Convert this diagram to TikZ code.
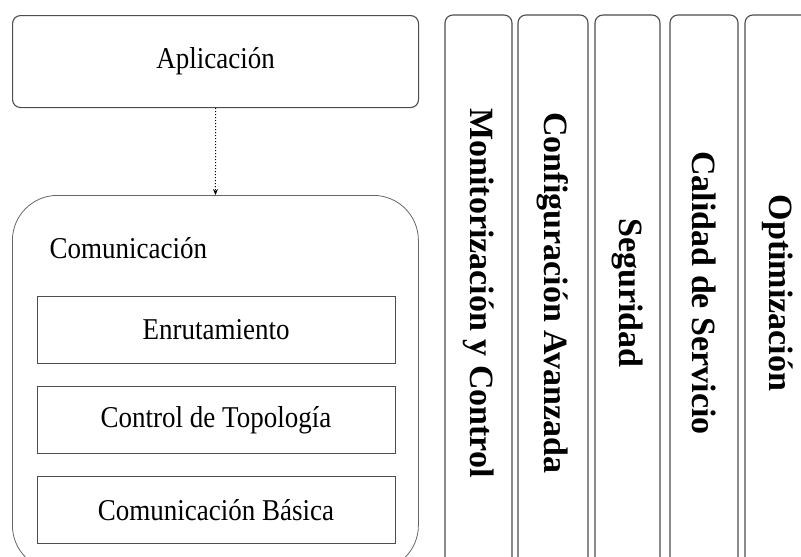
\documentclass[tikz,border=0pt]{standalone}
\usepackage{fontspec}
\usepackage{graphicx}
\setmainfont{Liberation Serif}
\usetikzlibrary{arrows.meta,positioning}
\newcommand{\stretchtxt}[1]{\scalebox{1}[1.12]{#1}}

\begin{document}
\begin{tikzpicture}[x=1pt,y=-1pt,>={Stealth[length=6pt,width=5pt]},
  font=\fontsize{27}{32}\selectfont,
  box/.style={draw=black!70,line width=1.1pt,rounded corners=8pt,
    minimum width=406pt,minimum height=92pt,anchor=north west},
  cont/.style={draw=black!60,line width=0.8pt,rounded corners=45pt,
    minimum width=406pt,minimum height=375pt,anchor=north west},
  layer/.style={draw=black!70,line width=0.9pt,minimum width=358pt,
    minimum height=67pt,inner sep=0pt},
  col/.style={draw=black!70,line width=1.1pt,rounded corners=8pt,rotate=-90,
    minimum width=556pt,inner sep=0pt,
    font=\fontsize{34}{40}\selectfont\bfseries}]
\clip (0,0) rectangle (801,557);
\node[box] (app) at (12,15) {\stretchtxt{Aplicación}};
\node[cont] (com) at (12,195) {};
\node[anchor=west] (comlbl) at (46,248) {\stretchtxt{Comunicación}};
\node[layer] (enr) at (216,330) {\stretchtxt{Enrutamiento}};
\node[layer,below=22pt of enr] (topo) {\stretchtxt{Control de Topología}};
\node[layer,below=22pt of topo] (basica) {\stretchtxt{Comunicación Básica}};
\draw[->,dotted,line width=1pt] (app) -- (com);
\node[col,minimum height=67pt] (mon) at (478.5,293) {Monitorización y Control};
\node[col,minimum height=70pt] (conf) at (553,293) {Configuración Avanzada};
\node[col,minimum height=65pt] (seg) at (627.5,293) {Seguridad};
\node[col,minimum height=68pt] (qos) at (704,293) {Calidad de Servicio};
\node[col,minimum height=65pt] (opt) at (777.5,293) {Optimización};
\end{tikzpicture}
\end{document}
